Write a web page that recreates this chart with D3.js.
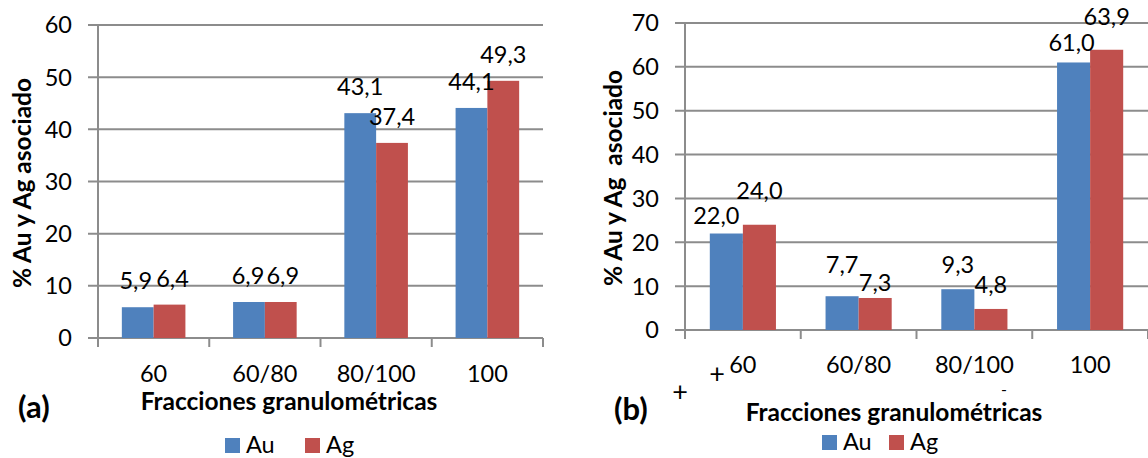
<!DOCTYPE html>
<html><head><meta charset="utf-8">
<script src="https://cdn.jsdelivr.net/npm/d3@7"></script>
<style>
html,body{margin:0;padding:0;background:#fff;}
svg{display:block;font-family:Lato,"Open Sans",sans-serif;}
</style></head>
<body>
<svg id="chart" width="1148" height="458"></svg>
<script>
// ---- data ----
const categoriesA = ["60", "60/80", "80/100", "100"];
const auA = [5.9, 6.9, 43.1, 44.1];
const agA = [6.4, 6.9, 37.4, 49.3];
const yTicksA = [0, 10, 20, 30, 40, 50, 60];

const categoriesB = ["60", "60/80", "80/100", "100"];
const auB = [22.0, 7.7, 9.3, 61.0];
const agB = [24.0, 7.3, 4.8, 63.9];
const yTicksB = [0, 10, 20, 30, 40, 50, 60, 70];

const seriesNames = ["Au", "Ag"];
const yTitleA = "% Au y Ag asociado";
const yTitleB = "% Au y Ag\u00a0 asociado";
const xTitle = "Fracciones granulométricas";

// label placement tweaks (baseline offset above bar top, x shift)
const labelDyB = [[-10, -23, -16, -11], [-26, -7, -16, -25]];
const labelDxB = [[-10, 0, 0, -2], [0, 0, 0, 0]];
const labelDxA = [[-2, -1, 0, 0], [3, 2, 0, 0]];

const colors = ["#4F81BD", "#C0504D"];
const gridColor = "#8c8c8c";
const FS = 23.5;      // tick / data label size
const TFS = 24.5;     // axis title size
const loc = d3.formatLocale({decimal: ",", thousands: ".", grouping: [3], currency: ["", ""]});
const fmt = loc.format(".1f");

const svg = d3.select("#chart");

function drawPanel(cfg) {
  const g = svg.append("g");
  const x = d3.scaleBand().domain(cfg.categories).range([cfg.x0, cfg.x1]).paddingInner(0).paddingOuter(0);
  const y = d3.scaleLinear().domain([0, cfg.yMax]).range([cfg.yBottom, cfg.yTop]);
  const bw = x.bandwidth() / 3.5;
  const series = [cfg.au, cfg.ag];

  g.selectAll("line.grid").data(cfg.yTicks).join("line")
    .attr("x1", cfg.x0 - 10).attr("x2", cfg.x1)
    .attr("y1", d => y(d)).attr("y2", d => y(d))
    .attr("stroke", gridColor).attr("stroke-width", 2);
  g.selectAll("text.ytick").data(cfg.yTicks).join("text")
    .attr("x", cfg.x0 - 26).attr("y", d => y(d)).attr("dy", "0.36em")
    .attr("text-anchor", "end").attr("font-size", FS).attr("fill", "#000")
    .text(d => d);
  g.append("line").attr("x1", cfg.x0).attr("x2", cfg.x0)
    .attr("y1", cfg.yTop).attr("y2", cfg.yBottom + 9)
    .attr("stroke", gridColor).attr("stroke-width", 2);
  const bounds = cfg.categories.map(c => x(c)).concat([cfg.x1]);
  g.selectAll("line.xt").data(bounds.slice(1)).join("line")
    .attr("x1", d => d).attr("x2", d => d)
    .attr("y1", cfg.yBottom).attr("y2", cfg.yBottom + 9)
    .attr("stroke", gridColor).attr("stroke-width", 2);

  series.forEach((vals, si) => {
    g.selectAll("rect.s" + si).data(vals).join("rect")
      .attr("x", (d, i) => x(cfg.categories[i]) + 0.75 * bw + si * bw)
      .attr("width", bw)
      .attr("y", d => y(d))
      .attr("height", d => cfg.yBottom - y(d))
      .attr("fill", colors[si]);
  });
  series.forEach((vals, si) => {
    g.selectAll("text.l" + si).data(vals).join("text")
      .attr("x", (d, i) => x(cfg.categories[i]) + 0.75 * bw + si * bw + bw / 2 + cfg.labelDx[si][i])
      .attr("y", (d, i) => y(d) + cfg.labelDy[si][i])
      .attr("text-anchor", "middle").attr("font-size", FS).attr("fill", "#000")
      .text(d => fmt(d));
  });
  g.selectAll("text.cat").data(cfg.categories).join("text")
    .attr("x", d => x(d) + x.bandwidth() / 2).attr("y", cfg.catBaseline)
    .attr("text-anchor", "middle").attr("font-size", FS).attr("fill", "#000")
    .text(d => d);
  g.append("text").attr("x", cfg.xTitleX).attr("y", cfg.xTitleY)
    .attr("text-anchor", "middle").attr("font-size", TFS).attr("font-weight", "bold")
    .text(xTitle);
  g.append("text").attr("transform", `translate(${cfg.yTitleX},${cfg.yTitleY}) rotate(-90)`)
    .attr("text-anchor", "middle").attr("font-size", TFS).attr("font-weight", "bold")
    .attr("dy", "0.35em").style("white-space", "pre")
    .text(cfg.yTitle);
  g.append("text").attr("x", cfg.letterX).attr("y", cfg.letterY)
    .attr("font-size", 31).attr("font-weight", "bold").text(cfg.letter);
  seriesNames.forEach((n, si) => {
    g.append("rect").attr("x", cfg.legendX[si]).attr("y", cfg.legendY)
      .attr("width", 15).attr("height", 15).attr("fill", colors[si]);
    g.append("text").attr("x", cfg.legendX[si] + 21).attr("y", cfg.legendY + 15)
      .attr("font-size", FS).text(n);
  });
  return {g, x, y};
}

const constA = categoriesA.map(() => -18);
drawPanel({
  categories: categoriesA, au: auA, ag: agA, yTicks: yTicksA, yMax: 60,
  x0: 98, x1: 543, yTop: 25, yBottom: 338,
  labelDy: [constA, constA], labelDx: labelDxA,
  catBaseline: 382, xTitleX: 289, xTitleY: 410,
  yTitle: yTitleA, yTitleX: 22, yTitleY: 183,
  letter: "(a)", letterX: 18, letterY: 418,
  legendX: [225, 305], legendY: 438
});

const pB = drawPanel({
  categories: categoriesB, au: auB, ag: agB, yTicks: yTicksB, yMax: 70,
  x0: 685, x1: 1148, yTop: 23, yBottom: 330,
  labelDy: labelDyB, labelDx: labelDxB,
  catBaseline: 373, xTitleX: 894, xTitleY: 421,
  yTitle: yTitleB, yTitleX: 613, yTitleY: 178,
  letter: "(b)", letterX: 614, letterY: 420,
  legendX: [822, 889], legendY: 435
});

// stray sign marks in panel (b)
const signs = [{t: "+", x: 717, y: 383, s: 27}, {t: "+", x: 680, y: 401, s: 27}, {t: "-", x: 1004, y: 395, s: 16}];
pB.g.selectAll("text.sign").data(signs).join("text")
  .attr("x", d => d.x).attr("y", d => d.y).attr("text-anchor", "middle")
  .attr("font-size", d => d.s).text(d => d.t);
</script>
</body></html>
